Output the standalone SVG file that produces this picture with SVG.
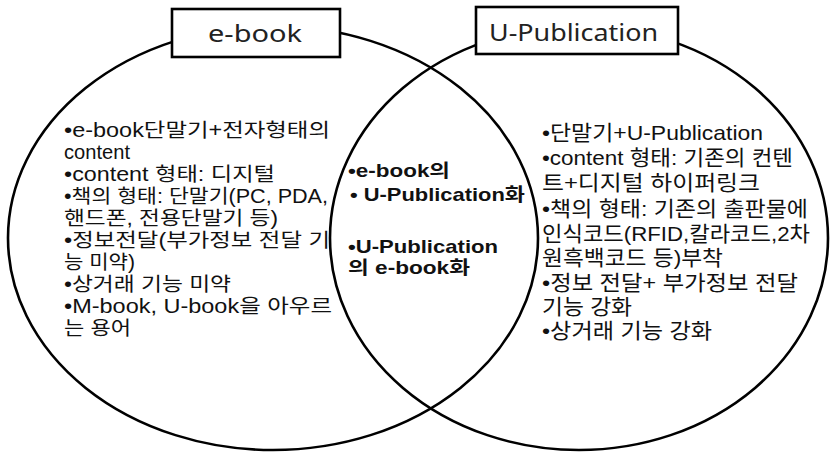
<svg xmlns="http://www.w3.org/2000/svg" width="831" height="453" viewBox="0 0 831 453">
<style>
.c{fill:none;stroke:#000;stroke-width:2.6}
.b{fill:#fff;stroke:#000;stroke-width:2.6}
.t{font-family:"Liberation Sans","Noto Sans CJK KR",sans-serif;fill:#111}
.h{font-family:"Noto Sans","Noto Sans CJK KR",sans-serif;font-size:24px;fill:#222}
.s{font-size:19.6px}
.r{font-size:21px}
.m{font-size:18.5px;font-weight:bold}
</style>
<rect width="831" height="453" fill="#fff"/>
<g id="circles">
<ellipse id="ebook-circle" class="c" cx="273" cy="238" rx="265" ry="212"/>
<ellipse id="upub-circle" class="c" cx="579" cy="238" rx="249" ry="212"/>
</g>
<g id="ebook-title">
<rect class="b" x="172" y="9" width="168" height="48"/>
<text class="h" x="208" y="42" textLength="94" lengthAdjust="spacingAndGlyphs">e-book</text>
</g>
<g id="upub-title">
<rect class="b" x="476" y="7" width="202" height="47"/>
<text class="h" x="489" y="41" textLength="169" lengthAdjust="spacingAndGlyphs">U-Publication</text>
</g>
<g id="ebook-text" class="t s">
<text x="64" y="137" textLength="266" lengthAdjust="spacingAndGlyphs">•e-book단말기+전자형태의</text>
<text x="64" y="159" textLength="66" lengthAdjust="spacingAndGlyphs">content</text>
<text x="64" y="181" textLength="211" lengthAdjust="spacingAndGlyphs">•content 형태: 디지털</text>
<text x="64" y="203" textLength="264" lengthAdjust="spacingAndGlyphs">•책의 형태: 단말기(PC, PDA,</text>
<text x="64" y="225" textLength="214" lengthAdjust="spacingAndGlyphs">핸드폰, 전용단말기 등)</text>
<text x="64" y="247" textLength="266" lengthAdjust="spacingAndGlyphs">•정보전달(부가정보 전달 기</text>
<text x="64" y="269" textLength="71" lengthAdjust="spacingAndGlyphs">능 미약)</text>
<text x="64" y="291" textLength="167" lengthAdjust="spacingAndGlyphs">•상거래 기능 미약</text>
<text x="64" y="313" textLength="268" lengthAdjust="spacingAndGlyphs">•M-book, U-book을 아우르</text>
<text x="64" y="335" textLength="67" lengthAdjust="spacingAndGlyphs">는 용어</text>
</g>
<g id="common-text" class="t m">
<text x="348" y="177" textLength="102" lengthAdjust="spacingAndGlyphs">•e-book의</text>
<text x="350" y="201" textLength="175" lengthAdjust="spacingAndGlyphs">• U-Publication화</text>
<text x="348" y="253" textLength="150" lengthAdjust="spacingAndGlyphs">•U-Publication</text>
<text x="348" y="274" textLength="122" lengthAdjust="spacingAndGlyphs">의 e-book화</text>
</g>
<g id="upub-text" class="t r">
<text x="542" y="140" textLength="221" lengthAdjust="spacingAndGlyphs">•단말기+U-Publication</text>
<text x="542" y="165" textLength="251" lengthAdjust="spacingAndGlyphs">•content 형태: 기존의 컨텐</text>
<text x="542" y="190" textLength="218" lengthAdjust="spacingAndGlyphs">트+디지털 하이퍼링크</text>
<text x="542" y="216" textLength="266" lengthAdjust="spacingAndGlyphs">•책의 형태: 기존의 출판물에</text>
<text x="542" y="241" textLength="268" lengthAdjust="spacingAndGlyphs">인식코드(RFID,칼라코드,2차</text>
<text x="542" y="265" textLength="181" lengthAdjust="spacingAndGlyphs">원흑백코드 등)부착</text>
<text x="542" y="290" textLength="256" lengthAdjust="spacingAndGlyphs">•정보 전달+ 부가정보 전달</text>
<text x="542" y="314" textLength="90" lengthAdjust="spacingAndGlyphs">기능 강화</text>
<text x="542" y="338" textLength="170" lengthAdjust="spacingAndGlyphs">•상거래 기능 강화</text>
</g>
</svg>
